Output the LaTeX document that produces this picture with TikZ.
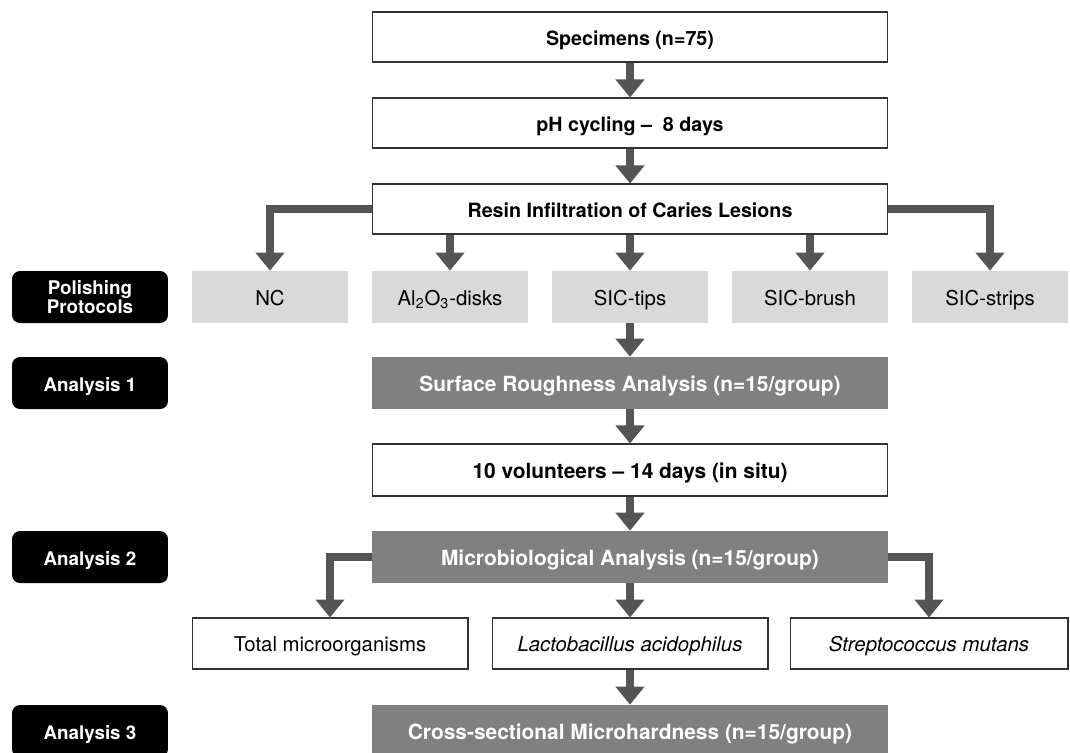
\documentclass[tikz,border=0pt]{standalone}
\usepackage{fontspec}
\setmainfont{TeX Gyre Heros}
\usetikzlibrary{arrows.meta}
\definecolor{arrowgray}{HTML}{555555}
\definecolor{darkbox}{HTML}{808080}
\definecolor{lightbox}{HTML}{D9D9D9}
\begin{document}
\begin{tikzpicture}[
			x=0.02cm, y=-0.02cm,
			stepbox/.style={draw=black!80, fill=white, line width=0.6pt, minimum width=10.32cm, minimum height=1cm, text height=2ex, text depth=0.25ex, font=\fontsize{11.2}{13}\selectfont\bfseries},
			analysisbox/.style={fill=darkbox, text=white, minimum width=10.32cm, minimum height=1.04cm, text height=2ex, text depth=0.25ex, font=\fontsize{11.9}{13}\selectfont\bfseries},
			protocol/.style={fill=lightbox, minimum width=3.12cm, minimum height=1.04cm, text height=2ex, text depth=0.25ex, font=\fontsize{11.6}{13}\selectfont},
			bacteria/.style={draw=black!80, fill=white, line width=0.6pt, minimum width=5.52cm, minimum height=1.02cm, text height=2ex, text depth=0.25ex, font=\fontsize{11.6}{13}\selectfont},
			tag/.style={fill=black, text=white, rounded corners=0.16cm, minimum width=3.12cm, minimum height=1.04cm, align=center, font=\fontsize{10.7}{11.3}\selectfont\bfseries},
			tagline/.style={tag, text height=2ex, text depth=0.25ex},
			flow/.style={draw=arrowgray, line width=0.16cm, line join=miter, -{Triangle[width=0.56cm,length=0.36cm]}}
		]
		\fill[white] (0,0) rectangle (1070,752);
		\useasboundingbox (0,0) rectangle (1070,752);

		% main column
		\node[stepbox] (spec) at (630,37) {Specimens (n=75)};
		\node[stepbox] (ph) at (630,123) {pH cycling --\ \ 8 days};
		\node[stepbox] (resin) at (630,209) {Resin Infiltration of Caries Lesions};

		% polishing groups
		\node[protocol] (nc) at (270,297) {NC};
		\node[protocol] (alo) at (450,297) {Al\textsubscript{2}O\textsubscript{3}-disks};
		\node[protocol] (tips) at (630,297) {SIC-tips};
		\node[protocol] (brush) at (810,297) {SIC-brush};
		\node[protocol] (strips) at (990,297) {SIC-strips};

		\node[analysisbox] (rough) at (630,383) {Surface Roughness Analysis (n=15/group)};
		\node[stepbox, minimum height=1.04cm, font=\fontsize{11.9}{13}\selectfont\bfseries] (vol) at (630,470) {10 volunteers -- 14 days (in situ)};
		\node[analysisbox] (micro) at (630,557) {Microbiological Analysis (n=15/group)};

		\node[bacteria] (total) at (330,643.5) {Total microorganisms};
		\node[bacteria] (lacto) at (630,643.5) {\itshape Lactobacillus acidophilus};
		\node[bacteria, minimum width=5.56cm] (strep) at (929,643.5) {\itshape Streptococcus mutans};

		\node[analysisbox] (cross) at (630,731) {Cross-sectional Microhardness (n=15/group)};

		% side labels
		\node[tag] (lab0) at (90,297) {Polishing\\Protocols};
		\node[tagline] (lab1) at (90,383) {Analysis 1};
		\node[tagline] (lab2) at (90,557) {Analysis 2};
		\node[tagline] (lab3) at (90,731) {Analysis 3};

		% arrows
		\draw[flow] (spec) -- (ph);
		\draw[flow] (ph) -- (resin);
		\draw[flow] (resin.west) -| (nc);
		\draw[flow] (resin.south -| alo.north) -- (alo);
		\draw[flow] (resin) -- (tips);
		\draw[flow] (resin.south -| brush.north) -- (brush);
		\draw[flow] (resin.east) -| (strips);
		\draw[flow] (tips) -- (rough);
		\draw[flow] (rough) -- (vol);
		\draw[flow] (vol) -- (micro);
		\draw[flow] (micro.west) -| (total);
		\draw[flow] (micro) -- (lacto);
		\draw[flow] (micro.east) -| (strep);
		\draw[flow] (lacto) -- (cross);
	\end{tikzpicture}
\end{document}
